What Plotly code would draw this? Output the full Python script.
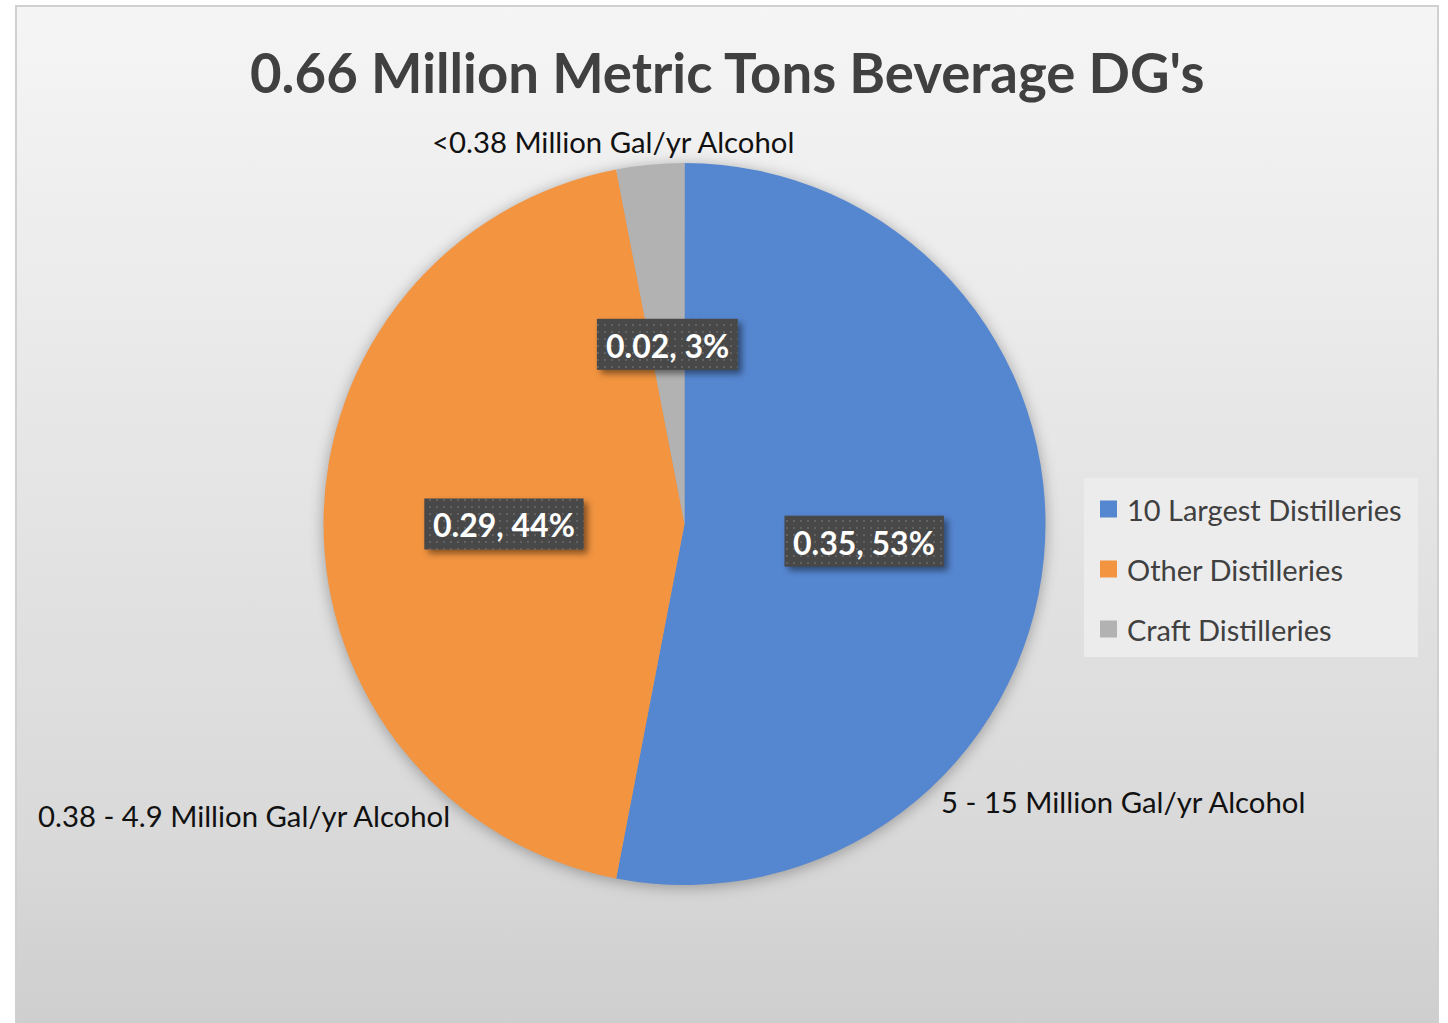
import base64
import math

import plotly.graph_objects as go

# ---- data -------------------------------------------------------------
categories = ["10 Largest Distilleries", "Other Distilleries", "Craft Distilleries"]
values = [0.35, 0.29, 0.02]  # million metric tons of beverage DG's
capacity_labels = [
    "5 - 15 Million Gal/yr Alcohol",
    "0.38 - 4.9 Million Gal/yr Alcohol",
    "<0.38 Million Gal/yr Alcohol",
]
colors = ["#5586d0", "#f29440", "#b2b2b2"]
title_text = "0.66 Million Metric Tons Beverage DG's"

# ---- page geometry (pixels) ---------------------------------------------
W, H = 1448, 1023
CX, CY, R = 684.5, 524.0, 361.0
FONT = "Lato"


def fx(x):
    return x / W


def fy(y):
    return 1 - y / H


total = sum(values)
fractions = [v / total for v in values]
pcts = [round(f * 100) for f in fractions]

# value label boxes sit halfway out along each slice's mid-angle (clockwise from 12 o'clock)
label_texts = [f"{v:.2f}, {p}%" for v, p in zip(values, pcts)]
centers = []
acc = 0.0
for f in fractions:
    mid = (acc + f / 2) * 2 * math.pi
    acc += f
    centers.append((CX + 0.5 * R * math.sin(mid), CY - 0.5 * R * math.cos(mid)))

LBL_SIZE = 32
CHAR_EM = {".": 0.26, ",": 0.26, " ": 0.2, "%": 0.8}


def text_width(s):
    return sum(CHAR_EM.get(c, 0.58) for c in s) * LBL_SIZE


boxes = []
for (cx, cy), t in zip(centers, label_texts):
    bw = text_width(t) + 18
    bh = 51
    boxes.append((cx - bw / 2, cy - bh / 2, bw, bh))

# ---- background: gradient panel + soft pie shadow ------------------------
bg_svg = f"""<svg xmlns="http://www.w3.org/2000/svg" width="{W}" height="{H}" viewBox="0 0 {W} {H}">
<defs>
<linearGradient id="bg" x1="0" y1="0" x2="0" y2="1">
<stop offset="0" stop-color="#f5f5f5"/>
<stop offset="0.45" stop-color="#e5e5e5"/>
<stop offset="0.8" stop-color="#d9d9d9"/>
<stop offset="1" stop-color="#cdcdcd"/>
</linearGradient>
<filter id="soft" x="-20%" y="-20%" width="140%" height="140%"><feGaussianBlur stdDeviation="7"/></filter>
</defs>
<rect width="{W}" height="{H}" fill="#ffffff"/>
<rect x="16" y="6" width="1422" height="1040" fill="url(#bg)" stroke="#d0d0d0" stroke-width="2"/>
<circle cx="{CX}" cy="{CY + 2}" r="{R + 1}" fill="#000000" fill-opacity="0.28" filter="url(#soft)"/>
</svg>"""

# ---- dotted label boxes with drop shadows ---------------------------------
box_parts = []
for x, y, bw, bh in boxes:
    box_parts.append(
        f'<rect x="{x + 4:.1f}" y="{y + 4:.1f}" width="{bw:.1f}" height="{bh}" fill="#000" '
        f'fill-opacity="0.45" filter="url(#sh)"/>'
    )
    box_parts.append(
        f'<rect x="{x:.1f}" y="{y:.1f}" width="{bw:.1f}" height="{bh}" fill="url(#dots)"/>'
    )
box_svg = f"""<svg xmlns="http://www.w3.org/2000/svg" width="{W}" height="{H}" viewBox="0 0 {W} {H}">
<defs>
<pattern id="dots" width="7" height="7" patternUnits="userSpaceOnUse">
<rect width="7" height="7" fill="#484848"/>
<rect x="2" y="2" width="2" height="2" fill="#626262"/>
</pattern>
<filter id="sh" x="-20%" y="-40%" width="140%" height="180%"><feGaussianBlur stdDeviation="3"/></filter>
</defs>
{''.join(box_parts)}
</svg>"""


def svg_uri(svg):
    return "data:image/svg+xml;base64," + base64.b64encode(svg.encode()).decode()


fig = go.Figure(
    go.Pie(
        labels=categories,
        values=values,
        sort=False,
        direction="clockwise",
        rotation=0,
        marker=dict(colors=colors, line=dict(width=0)),
        textinfo="none",
        hoverinfo="label+value+percent",
        showlegend=False,
        domain=dict(x=[fx(CX - R), fx(CX + R)], y=[fy(CY + R), fy(CY - R)]),
    )
)

annotations = []
# value labels
for (cx, cy), t in zip(centers, label_texts):
    annotations.append(
        dict(
            x=fx(cx), y=fy(cy + 1), xref="paper", yref="paper",
            text=f"<b>{t}</b>", showarrow=False,
            font=dict(family=FONT, size=LBL_SIZE, color="#ffffff"),
            xanchor="center", yanchor="middle",
        )
    )

# capacity range labels around the pie
cap_pos = [(939, 801), (36, 815), (430, 141)]
for (x, y), t in zip(cap_pos, capacity_labels):
    annotations.append(
        dict(
            x=fx(x), y=fy(y), xref="paper", yref="paper", text=t, showarrow=False,
            font=dict(family=FONT, size=29.3, color="#111111"),
            xanchor="left", yanchor="middle",
        )
    )

# title
annotations.append(
    dict(
        x=fx(727), y=fy(72), xref="paper", yref="paper",
        text=f"<b>{title_text}</b>", showarrow=False,
        font=dict(family=FONT, size=54.5, color="#404040"),
        xanchor="center", yanchor="middle",
    )
)

# legend
shapes = [
    dict(type="rect", xref="paper", yref="paper", x0=fx(1084), x1=fx(1418),
         y0=fy(657), y1=fy(478), fillcolor="#ececec", line=dict(width=0), layer="below")
]
leg_y = [509, 569, 629]
for cat, col, y in zip(categories, colors, leg_y):
    shapes.append(
        dict(type="rect", xref="paper", yref="paper", x0=fx(1100), x1=fx(1117),
             y0=fy(y + 8.5), y1=fy(y - 8.5), fillcolor=col, line=dict(width=0), layer="below")
    )
    annotations.append(
        dict(
            x=fx(1125), y=fy(y), xref="paper", yref="paper", text=cat, showarrow=False,
            font=dict(family=FONT, size=29, color="#404040"),
            xanchor="left", yanchor="middle",
        )
    )

fig.update_layout(
    width=W,
    height=H,
    margin=dict(l=0, r=0, t=0, b=0),
    paper_bgcolor="#ffffff",
    plot_bgcolor="#ffffff",
    images=[
        dict(source=svg_uri(bg_svg), xref="paper", yref="paper", x=0, y=1,
             sizex=1, sizey=1, sizing="stretch", xanchor="left", yanchor="top", layer="below"),
        dict(source=svg_uri(box_svg), xref="paper", yref="paper", x=0, y=1,
             sizex=1, sizey=1, sizing="stretch", xanchor="left", yanchor="top", layer="above"),
    ],
    shapes=shapes,
    annotations=annotations,
)

fig.write_html("out.html", config=dict(displayModeBar=False))
